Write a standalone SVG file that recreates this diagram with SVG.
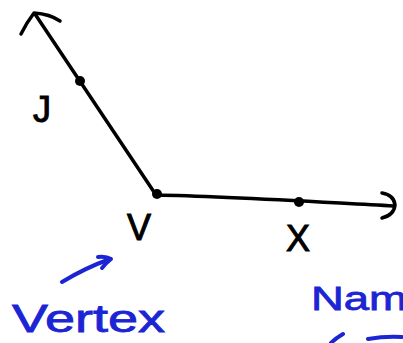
<svg xmlns="http://www.w3.org/2000/svg" width="403" height="343" viewBox="0 0 403 343">
<style>
.ink{fill:none;stroke:#000;stroke-width:3.5;stroke-linecap:round;stroke-linejoin:round}
.blue{fill:none;stroke:#1c25d4;stroke-width:4;stroke-linecap:round;stroke-linejoin:round}
.lbl{font-family:"Liberation Sans",Arial,sans-serif;fill:#000;stroke:#000;stroke-width:1}
.btx{font-family:"Liberation Sans",Arial,sans-serif;fill:#1c25d4;stroke:#1c25d4;stroke-width:0.8}
</style>
<rect width="403" height="343" fill="#fff"/>
<g id="connectors">
<path class="ink" d="M156,195 L35,14"/>
<path class="ink" d="M21,34 Q27,22 34,13 Q50,14 60,21"/>
<path class="ink" d="M156,195 C220,196 300,201 394,206"/>
<path class="ink" d="M382,193 Q394,195 395,205 Q394,215 382,218"/>
<path class="blue" d="M62,282 Q85,268 110,259"/>
<path class="blue" d="M98,257 Q106,256 111,259 Q106,263 102,268"/>
<path class="blue" d="M343,334 Q336,338 331,343"/>
<path class="blue" d="M368,339 Q385,336 402,337"/>
</g>
<g id="point-J"><circle cx="80" cy="81" r="5"/></g>
<g id="point-V"><circle cx="157" cy="194" r="5"/></g>
<g id="point-X"><circle cx="299" cy="202" r="5"/></g>
<g id="labels">
<text class="lbl" x="33" y="122" font-size="36">J</text>
<text class="lbl" x="127" y="240" font-size="36">V</text>
<text class="lbl" x="286" y="251" font-size="36">X</text>
<text class="btx" x="12" y="332" font-size="38" textLength="153" lengthAdjust="spacingAndGlyphs">Vertex</text>
<text class="btx" x="311" y="310" font-size="34" textLength="96" lengthAdjust="spacingAndGlyphs">Nam</text>
</g>
</svg>
